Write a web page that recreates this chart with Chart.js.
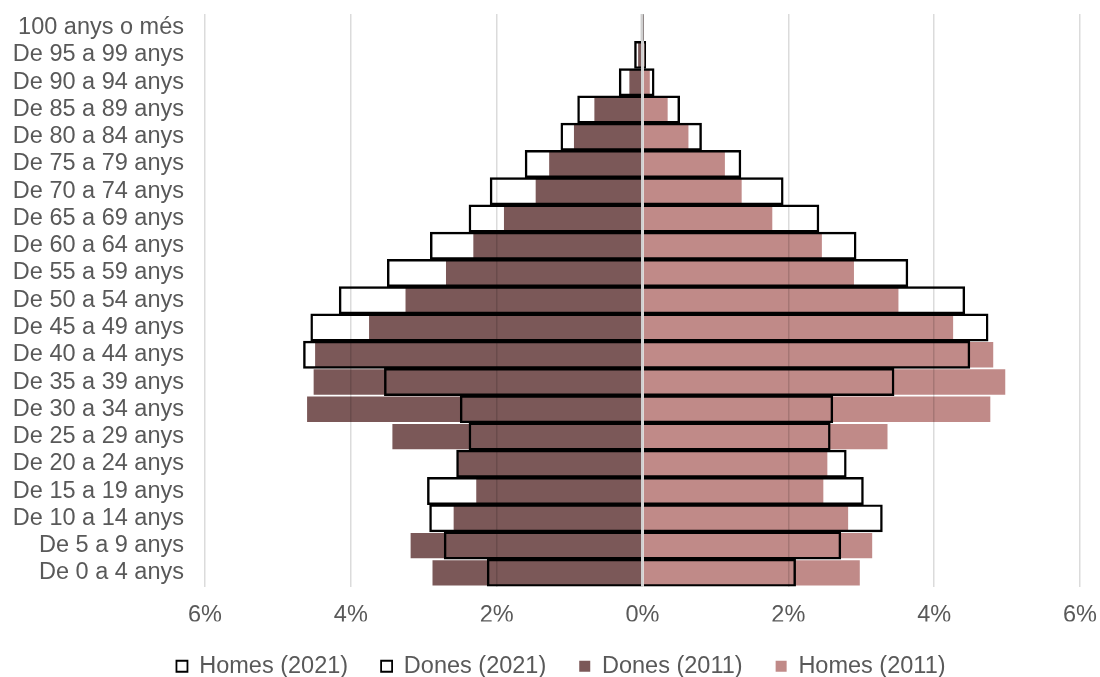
<!DOCTYPE html>
<html>
<head>
<meta charset="utf-8">
<script src="https://cdn.jsdelivr.net/npm/chart.js@4"></script>
<style>
  html, body { margin: 0; padding: 0; background: #fff; }
  #wrap { width: 1100px; height: 677px; }
</style>
</head>
<body>
<div id="wrap"><canvas id="pyramid"></canvas></div>
<script>
// age groups, top to bottom
const ageGroups = ['100 anys o més', 'De 95 a 99 anys', 'De 90 a 94 anys', 'De 85 a 89 anys',
  'De 80 a 84 anys', 'De 75 a 79 anys', 'De 70 a 74 anys', 'De 65 a 69 anys',
  'De 60 a 64 anys', 'De 55 a 59 anys', 'De 50 a 54 anys', 'De 45 a 49 anys',
  'De 40 a 44 anys', 'De 35 a 39 anys', 'De 30 a 34 anys', 'De 25 a 29 anys',
  'De 20 a 24 anys', 'De 15 a 19 anys', 'De 10 a 14 anys', 'De 5 a 9 anys', 'De 0 a 4 anys'];

// % of population (women are drawn on the left)
const homes2021 = [0.01, 0.045, 0.16, 0.51, 0.81, 1.35, 1.93, 2.42, 2.93, 3.64, 4.42, 4.74,
  4.49, 3.45, 2.61, 2.575, 2.795, 3.03, 3.29, 2.72, 2.10];
const dones2021 = [0.02, 0.11, 0.32, 0.89, 1.12, 1.61, 2.09, 2.38, 2.91, 3.50, 4.16, 4.55,
  4.65, 3.54, 2.50, 2.38, 2.55, 2.95, 2.92, 2.72, 2.13];
const dones2011 = [0.01, 0.06, 0.18, 0.66, 0.94, 1.28, 1.465, 1.90, 2.32, 2.695, 3.25, 3.75,
  4.49, 4.51, 4.60, 3.43, 2.53, 2.28, 2.59, 3.18, 2.88];
const homes2011 = [0.005, 0.03, 0.10, 0.345, 0.63, 1.13, 1.36, 1.78, 2.46, 2.90, 3.51, 4.26,
  4.81, 4.975, 4.77, 3.36, 2.535, 2.48, 2.82, 3.15, 2.98];

const xTicks = [-6, -4, -2, 0, 2, 4, 6];

const neg = arr => arr.map(v => -v);
const textColor = '#595959';
const font = { family: 'Liberation Sans, Arial, sans-serif', size: 23.5 };

const outline = (label, data) => ({
  label, data,
  backgroundColor: 'rgba(0,0,0,0)',
  borderColor: '#000000',
  borderWidth: 1.8,
  barPercentage: 1.0,
  categoryPercentage: 1.0,
  grouped: false,
  order: 0
});
const whiteFill = (label, data) => ({
  label, data,
  backgroundColor: '#ffffff',
  borderWidth: 0,
  barPercentage: 1.0,
  categoryPercentage: 1.0,
  grouped: false,
  order: 2
});
const solid = (label, data, color) => ({
  label, data,
  backgroundColor: color,
  borderWidth: 0,
  barPercentage: 0.93,
  categoryPercentage: 1.0,
  grouped: false,
  order: 1
});

// nudge the legend a little to the right, like the original
const legendShift = {
  id: 'legendShift',
  afterLayout(chart) {
    chart.legend.left += 15;
    chart.legend.right += 15;
  }
};

new Chart(document.getElementById('pyramid'), {
  type: 'bar',
  data: {
    labels: ageGroups,
    datasets: [
      outline('Homes (2021)', homes2021),
      outline('Dones (2021)', neg(dones2021)),
      solid('Dones (2011)', neg(dones2011), '#7b5858'),
      solid('Homes (2011)', homes2011, '#c08a88'),
      whiteFill('bg1', homes2021),
      whiteFill('bg2', neg(dones2021))
    ]
  },
  plugins: [legendShift],
  options: {
    indexAxis: 'y',
    responsive: true,
    maintainAspectRatio: false,
    animation: false,
    layout: { padding: { left: 12, right: 20, top: 14, bottom: -11 } },
    scales: {
      x: {
        min: -6, max: 6,
        afterBuildTicks: axis => { axis.ticks = xTicks.map(v => ({ value: v })); },
        afterFit: axis => {
          axis.paddingLeft = 0;
          axis.paddingRight = 0;
          axis.height = 35;
        },
        border: { display: false },
        grid: {
          z: 1,
          drawTicks: false,
          lineWidth: ctx => (ctx.tick && ctx.tick.value === 0) ? 2.5 : 1.5,
          color: ctx => (ctx.tick && ctx.tick.value === 0) ? '#d0d0d0' : 'rgba(0,0,0,0.14)'
        },
        ticks: {
          padding: 15,
          color: textColor,
          font,
          callback: v => Math.abs(v) + '%'
        }
      },
      y: {
        afterFit: axis => {
          axis.paddingTop = 0;
          axis.paddingBottom = 0;
          axis.width = 193;
        },
        border: { display: false },
        grid: { display: false, drawTicks: false },
        ticks: {
          padding: 21,
          autoSkip: false,
          color: textColor,
          font
        }
      }
    },
    plugins: {
      tooltip: { enabled: false },
      legend: {
        position: 'bottom',
        labels: {
          color: textColor,
          font,
          boxWidth: 11,
          boxHeight: 11,
          padding: 33,
          filter: item => item.datasetIndex < 4,
          sort: (a, b) => a.datasetIndex - b.datasetIndex
        }
      }
    }
  }
});
</script>
</body>
</html>
